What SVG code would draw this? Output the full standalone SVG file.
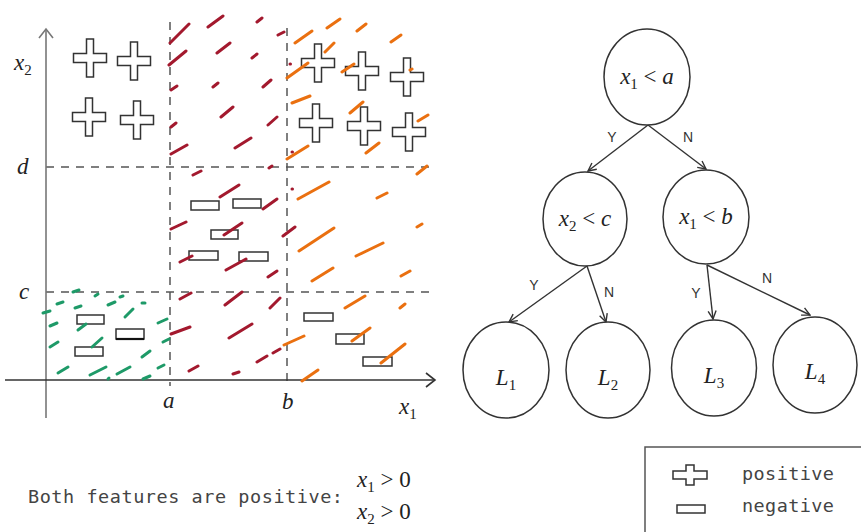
<svg xmlns="http://www.w3.org/2000/svg" width="861" height="532" viewBox="0 0 861 532">
  <style>
    .grid { stroke: #555; stroke-width: 1.5; stroke-dasharray: 8 7; fill: none; }
    .axis { stroke: #333; stroke-width: 1.6; fill: none; }
    .yaxis { stroke: #777; stroke-width: 1.6; fill: none; }
    .pos { fill: #fff; stroke: #333; stroke-width: 1.5; }
    .neg { fill: #fff; stroke: #333; stroke-width: 1.5; }
    .hatch { fill: none; stroke-width: 3; stroke-linecap: round; }
    .red { stroke: #a3192e; }
    .orange { stroke: #ea7010; }
    .green { stroke: #1e9a68; }
    .node { fill: #fff; stroke: #333; stroke-width: 1.5; }
    .edge { stroke: #333; stroke-width: 1.4; fill: none; }
    .m { font-family: "Liberation Serif", "DejaVu Serif", serif; font-size: 23px; fill: #222; }
    .i { font-style: italic; }
    .sub { font-size: 15px; }
    .yn { font-family: "Liberation Sans", Arial, sans-serif; font-size: 14px; fill: #333; text-anchor: middle; }
    .mono { font-family: "DejaVu Sans Mono", "Liberation Mono", monospace; font-size: 18.5px; fill: #444; }
  </style>
  <defs>
    <path id="plus" d="M-3.5,-19 H3.5 V-4.5 H16.5 V4.5 H3.5 V19 H-3.5 V4.5 H-16.5 V-4.5 H-3.5 Z"/>
    <marker id="arr" viewBox="0 0 10 10" refX="9" refY="5" markerWidth="10" markerHeight="10" markerUnits="userSpaceOnUse" orient="auto">
      <path d="M1,1 L9,5 L1,9" fill="none" stroke="#333" stroke-width="1.4"/>
    </marker>
  </defs>
  <rect width="861" height="532" fill="#fff"/>

  <!-- feature space -->
  <g id="plot">
    <g id="grid-lines">
      <line class="grid" x1="170" y1="22" x2="170" y2="386"/>
      <line class="grid" x1="287" y1="28" x2="287" y2="386"/>
      <line class="grid" x1="46" y1="167" x2="430" y2="167"/>
      <line class="grid" x1="46" y1="292" x2="430" y2="292"/>
    </g>
    <g id="axes">
      <line class="yaxis" x1="46" y1="418" x2="46" y2="29"/>
      <path class="yaxis" d="M39,38 L46,29 L53,38"/>
      <line class="axis" x1="5" y1="380" x2="435" y2="380"/>
      <path class="axis" d="M426,373 L435,380 L426,387"/>
      <text class="m" x="14" y="70"><tspan class="i">x</tspan><tspan class="sub" dy="5">2</tspan></text>
      <text class="m i" x="17" y="174">d</text>
      <text class="m i" x="19" y="299">c</text>
      <text class="m i" x="163" y="408">a</text>
      <text class="m i" x="282" y="409">b</text>
      <text class="m" x="399" y="414"><tspan class="i">x</tspan><tspan class="sub" dy="5">1</tspan></text>
    </g>
    <g id="positives">
      <use href="#plus" class="pos" x="90" y="58"/>
      <use href="#plus" class="pos" x="134" y="61"/>
      <use href="#plus" class="pos" x="89" y="117"/>
      <use href="#plus" class="pos" x="137" y="120"/>
      <use href="#plus" class="pos" x="318" y="63"/>
      <use href="#plus" class="pos" x="362" y="71"/>
      <use href="#plus" class="pos" x="407" y="77"/>
      <use href="#plus" class="pos" x="316" y="123"/>
      <use href="#plus" class="pos" x="364" y="126"/>
      <use href="#plus" class="pos" x="409" y="132"/>
    </g>
    <g id="negatives">
      <rect class="neg" x="191" y="201" width="28" height="9"/>
      <rect class="neg" x="233" y="199" width="28" height="9"/>
      <rect class="neg" x="211" y="230" width="27" height="9"/>
      <rect class="neg" x="189" y="251" width="29" height="9"/>
      <rect class="neg" x="239" y="252" width="29" height="9"/>
      <rect class="neg" x="77" y="315" width="27" height="9"/>
      <rect class="neg" x="116" y="329" width="28" height="10"/>
      <line x1="116" y1="339" x2="144" y2="339" stroke="#111" stroke-width="2.2"/>
      <rect class="neg" x="75" y="347" width="28" height="9"/>
      <rect class="neg" x="304" y="313" width="29" height="8"/>
      <rect class="neg" x="336" y="334" width="28" height="10"/>
      <rect class="neg" x="363" y="357" width="29" height="9"/>
    </g>
    <g id="hatching">
      <path class="hatch red" d="M170,43L189,24 M208,27L223,16 M257,22L262,18 M278,35L284,32 M169,65L186,51 M217,53L230,43 M252,58L257,54 M171,90L177,86 M213,87L218,83 M263,87L271,80 M221,117L233,107 M171,127L176,123 M268,125L277,117 M171,154L187,145 M235,148L251,138 M193,175L201,171 M269,168L272,166 M220,197L239,185 M263,209L277,199 M171,229L186,222 M224,235L242,223 M283,236L295,227 M180,262L192,256 M226,270L246,259 M268,277L277,271 M180,299L191,293 M225,305L242,292 M270,308L280,298 M171,334L190,327 M229,338L252,324 M257,362L267,356 M273,353L280,349 M189,371L198,366 M233,374L239,372 M290,64L290.5,64 M292,152L292.5,152 M292,189L292.5,189"/>
      <path class="hatch orange" d="M295,43L312,31 M327,28L340,19 M357,31L366,24 M391,42L401,35 M325,52L334,43 M287,78L308,63 M342,72L354,64 M410,70L412,69 M292,103L310,96 M350,113L363,102 M418,121L428,115 M287,159L308,146 M366,153L379,143 M417,174L427,166 M298,199L329,182 M377,198L387,193 M417,227L422,224 M299,251L334,228 M356,256L383,243 M312,281L333,268 M401,276L410,271 M345,308L365,296 M400,308L405,304 M284,345L304,336 M352,341L370,328 M381,363L405,344 M302,381L318,370"/>
      <path class="hatch green" d="M43,313L50,311 M57,304L63,302 M73,292L79,290 M95,296L98,294 M120,297L123,296 M75,308L81,306 M108,305L115,302 M142,303L145,303 M50,326L57,323 M78,330L86,324 M125,317L133,309 M158,323L167,319 M50,347L58,342 M92,347L102,338 M142,357L150,351 M163,342L169,339 M58,373L68,367 M90,375L106,367 M117,374L130,367 M108,379L109,378 M143,379L150,376 M158,368L164,365"/>
    </g>
  </g>

  <!-- decision tree -->
  <g id="connectors">
    <line class="edge" x1="648" y1="125" x2="588" y2="171" marker-end="url(#arr)"/>
    <line class="edge" x1="648" y1="125" x2="706" y2="169" marker-end="url(#arr)"/>
    <line class="edge" x1="587" y1="266" x2="509" y2="322" marker-end="url(#arr)"/>
    <line class="edge" x1="587" y1="266" x2="606" y2="322" marker-end="url(#arr)"/>
    <line class="edge" x1="707" y1="265" x2="713" y2="319" marker-end="url(#arr)"/>
    <line class="edge" x1="707" y1="265" x2="810" y2="315" marker-end="url(#arr)"/>
    <text class="yn" x="612" y="142">Y</text>
    <text class="yn" x="688" y="142">N</text>
    <text class="yn" x="534" y="290">Y</text>
    <text class="yn" x="609" y="297">N</text>
    <text class="yn" x="696" y="298">Y</text>
    <text class="yn" x="767" y="283">N</text>
  </g>
  <g id="node-root">
    <ellipse class="node" cx="647" cy="77" rx="43" ry="48"/>
    <text class="m" x="647" y="84" text-anchor="middle"><tspan class="i">x</tspan><tspan class="sub" dy="5">1</tspan><tspan dy="-5"> &lt; </tspan><tspan class="i">a</tspan></text>
  </g>
  <g id="node-x2c">
    <ellipse class="node" cx="585" cy="219" rx="42" ry="47"/>
    <text class="m" x="585" y="226" text-anchor="middle"><tspan class="i">x</tspan><tspan class="sub" dy="5">2</tspan><tspan dy="-5"> &lt; </tspan><tspan class="i">c</tspan></text>
  </g>
  <g id="node-x1b">
    <ellipse class="node" cx="706" cy="217" rx="43" ry="47"/>
    <text class="m" x="706" y="224" text-anchor="middle"><tspan class="i">x</tspan><tspan class="sub" dy="5">1</tspan><tspan dy="-5"> &lt; </tspan><tspan class="i">b</tspan></text>
  </g>
  <g id="leaf-L1">
    <ellipse class="node" cx="506" cy="370" rx="43" ry="48"/>
    <text class="m" x="506" y="385" text-anchor="middle"><tspan class="i">L</tspan><tspan class="sub" dy="5">1</tspan></text>
  </g>
  <g id="leaf-L2">
    <ellipse class="node" cx="608" cy="370" rx="42" ry="48"/>
    <text class="m" x="608" y="385" text-anchor="middle"><tspan class="i">L</tspan><tspan class="sub" dy="5">2</tspan></text>
  </g>
  <g id="leaf-L3">
    <ellipse class="node" cx="714" cy="368" rx="42.5" ry="48"/>
    <text class="m" x="714" y="383" text-anchor="middle"><tspan class="i">L</tspan><tspan class="sub" dy="5">3</tspan></text>
  </g>
  <g id="leaf-L4">
    <ellipse class="node" cx="815" cy="365" rx="42" ry="48"/>
    <text class="m" x="815" y="379" text-anchor="middle"><tspan class="i">L</tspan><tspan class="sub" dy="5">4</tspan></text>
  </g>

  <!-- caption -->
  <g id="caption">
    <text class="mono" x="28" y="503" textLength="315" lengthAdjust="spacing">Both features are positive:</text>
    <text class="m" x="357" y="487"><tspan class="i">x</tspan><tspan class="sub" dy="5">1</tspan><tspan dy="-5"> &gt; 0</tspan></text>
    <text class="m" x="357" y="519"><tspan class="i">x</tspan><tspan class="sub" dy="5">2</tspan><tspan dy="-5"> &gt; 0</tspan></text>
  </g>

  <!-- legend -->
  <g id="legend">
    <rect x="645" y="447" width="230" height="100" fill="#fff" stroke="#555" stroke-width="1.5"/>
    <path class="pos" d="M686,465 H694 V471 H707 V479 H694 V485 H686 V479 H673 V471 H686 Z"/>
    <rect class="neg" x="677" y="505" width="28" height="8"/>
    <text class="mono" x="742" y="480" textLength="92" lengthAdjust="spacing">positive</text>
    <text class="mono" x="742" y="512" textLength="92" lengthAdjust="spacing">negative</text>
  </g>
</svg>
